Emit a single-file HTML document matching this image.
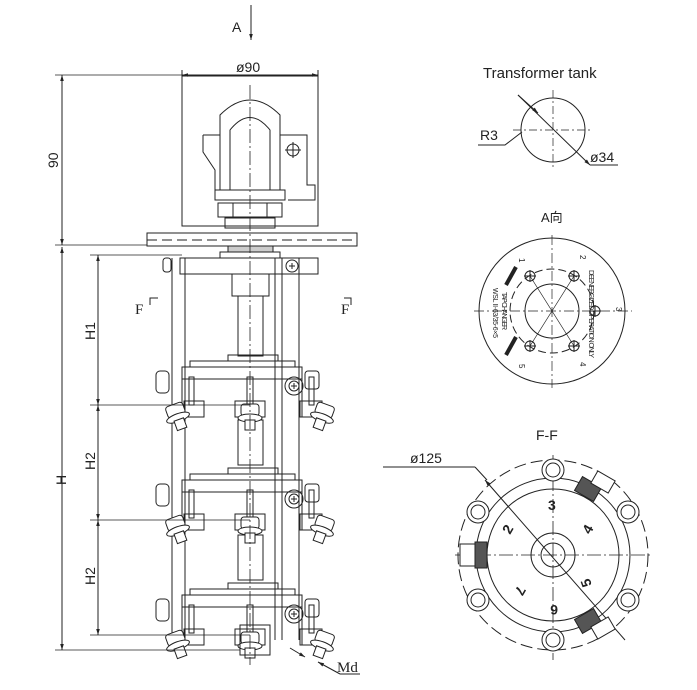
<!DOCTYPE html>
<html><head><meta charset="utf-8"><style>
html,body{margin:0;padding:0;background:#fff;}
svg{display:block;}
text{font-family:"Liberation Sans","Noto Sans CJK SC",sans-serif;fill:#222;}
.s{font-family:"Liberation Serif","Noto Serif CJK SC",serif;}
</style></head><body>
<svg width="697" height="690" viewBox="0 0 697 690" xmlns="http://www.w3.org/2000/svg">
<defs>
<marker id="ar" viewBox="0 0 10 10" refX="10" refY="5" markerWidth="8" markerHeight="6" orient="auto-start-reverse"><path d="M0,2 L10,5 L0,8 z" fill="#222"/></marker>
<g id="tier" fill="none" stroke="#222" stroke-width="1">
  <rect x="228" y="-12" width="50" height="6"/>
  <rect x="190" y="-6" width="105" height="6"/>
  <rect x="182" y="0" width="120" height="12"/>
  <rect x="156" y="4" width="13" height="22" rx="4"/>
  <rect x="305" y="4" width="14" height="18" rx="3"/>
  <line x1="182" y1="12" x2="182" y2="50"/><line x1="302" y1="12" x2="302" y2="50"/>
  <rect x="189" y="10" width="5" height="28"/><rect x="247" y="10" width="6" height="28"/><rect x="309" y="10" width="5" height="28"/>
  <rect x="184" y="34" width="20" height="16"/><rect x="235" y="34" width="30" height="16"/><rect x="300" y="34" width="22" height="16"/>
  <circle cx="294" cy="19" r="9"/><circle cx="294" cy="19" r="5"/>
  <path d="M291,19 h6 M294,16 v6"/>
  <g transform="translate(176,45) rotate(-20)"><rect x="-9" y="-8" width="18" height="12" rx="3" fill="#fff"/><ellipse cx="0" cy="6" rx="12" ry="4" fill="#fff"/><rect x="-5" y="8" width="10" height="10" fill="#fff"/></g>
  <g transform="translate(250,45)"><rect x="-9" y="-8" width="18" height="12" rx="3" fill="#fff"/><ellipse cx="0" cy="6" rx="12" ry="4" fill="#fff"/><rect x="-5" y="8" width="10" height="10" fill="#fff"/></g>
  <g transform="translate(324,45) rotate(20)"><rect x="-9" y="-8" width="18" height="12" rx="3" fill="#fff"/><ellipse cx="0" cy="6" rx="12" ry="4" fill="#fff"/><rect x="-5" y="8" width="10" height="10" fill="#fff"/></g>
</g>
</defs>
<g fill="none" stroke="#222" stroke-width="1">
<!-- top box -->
<rect x="182" y="76" width="136" height="150"/>
<path d="M220,190 V115 Q250,85 280,115 V190"/>
<path d="M230,190 V130 Q250,105 270,130 V190"/>
<path d="M203,135 H220 M203,135 V152 L215,170 V190 M280,135 H307 V185 H315 V200 H288"/>
<circle cx="293" cy="150" r="6"/><path d="M285,150 H301 M293,142 V158"/>
<rect x="215" y="190" width="70" height="10"/>
<rect x="218" y="203" width="64" height="14"/><line x1="233" y1="203" x2="233" y2="217"/><line x1="267" y1="203" x2="267" y2="217"/>
<rect x="225" y="218" width="50" height="10"/>
<rect x="147" y="233" width="210" height="13"/>
<line x1="147" y1="240" x2="357" y2="240" stroke-dasharray="10,5"/>
<rect x="228" y="246" width="45" height="6" fill="#ccc"/>
<rect x="220" y="252" width="60" height="6"/>
<!-- frame -->
<rect x="180" y="258" width="138" height="16"/>
<rect x="163" y="258" width="8" height="14" rx="3"/>
<line x1="172" y1="258" x2="172" y2="640"/><line x1="185" y1="258" x2="185" y2="640"/>
<line x1="275" y1="258" x2="275" y2="640"/><line x1="282" y1="258" x2="282" y2="640"/><line x1="299" y1="258" x2="299" y2="640"/>
<circle cx="292" cy="266" r="6"/><path d="M289,266 h6 M292,263 v6"/>
<rect x="232" y="274" width="37" height="22"/>
<rect x="238" y="296" width="25" height="60"/>
<rect x="238" y="420" width="25" height="45"/>
<rect x="238" y="535" width="25" height="45"/>
<use href="#tier" y="367"/>
<use href="#tier" y="480"/>
<use href="#tier" y="595"/>
<rect x="240" y="625" width="30" height="30"/>
<!-- centerline -->
<line x1="250" y1="85" x2="250" y2="665" stroke-dasharray="14,3,2,3" stroke-width="0.8"/>
<!-- dims -->
<line x1="182" y1="70" x2="182" y2="76"/><line x1="318" y1="70" x2="318" y2="76"/>
<line x1="182" y1="75" x2="318" y2="75" marker-start="url(#ar)" marker-end="url(#ar)"/>
<line x1="251" y1="5" x2="251" y2="40" marker-end="url(#ar)"/>
<line x1="55" y1="75" x2="250" y2="75" stroke-width="0.8"/>
<line x1="55" y1="245" x2="147" y2="245" stroke-width="0.8"/>
<line x1="62" y1="75" x2="62" y2="245" marker-start="url(#ar)" marker-end="url(#ar)"/>
<line x1="62" y1="247" x2="62" y2="650" marker-start="url(#ar)" marker-end="url(#ar)"/>
<line x1="55" y1="650" x2="240" y2="650" stroke-width="0.8"/>
<line x1="90" y1="255" x2="182" y2="255" stroke-width="0.8"/>
<line x1="90" y1="405" x2="250" y2="405" stroke-width="0.8"/>
<line x1="90" y1="520" x2="250" y2="520" stroke-width="0.8"/>
<line x1="90" y1="635" x2="250" y2="635" stroke-width="0.8"/>
<line x1="98" y1="255" x2="98" y2="405" marker-start="url(#ar)" marker-end="url(#ar)"/>
<line x1="98" y1="405" x2="98" y2="520" marker-start="url(#ar)" marker-end="url(#ar)"/>
<line x1="98" y1="520" x2="98" y2="635" marker-start="url(#ar)" marker-end="url(#ar)"/>
<path d="M150,305 V298 H158 M344,298 H351 V305"/>
<line x1="290" y1="648" x2="305" y2="657" marker-end="url(#ar)"/>
<line x1="340" y1="674" x2="318" y2="662" marker-end="url(#ar)"/>
<line x1="340" y1="674" x2="360" y2="674"/>
<!-- tank circle -->
<circle cx="553" cy="130" r="32"/>
<line x1="518" y1="95" x2="590" y2="165" marker-end="url(#ar)"/>
<line x1="518" y1="95" x2="538" y2="113" marker-end="url(#ar)"/>
<path d="M478,145 H505 L522,132"/>
<line x1="590" y1="165" x2="618" y2="165"/>
<line x1="553" y1="90" x2="553" y2="170" stroke-dasharray="8,3,2,3" stroke-width="0.7"/>
<line x1="513" y1="130" x2="593" y2="130" stroke-dasharray="8,3,2,3" stroke-width="0.7"/>
<!-- A view -->
<circle cx="552" cy="311" r="73"/>
<circle cx="552" cy="311" r="27"/>
<circle cx="552" cy="311" r="42" stroke-dasharray="8,4"/>
<line x1="474" y1="311" x2="632" y2="311" stroke-dasharray="10,3,2,3" stroke-width="0.7"/>
<line x1="552" y1="235" x2="552" y2="388" stroke-dasharray="10,3,2,3" stroke-width="0.7"/>
<g>
<circle cx="530" cy="276" r="5"/><circle cx="574" cy="276" r="5"/><circle cx="530" cy="346" r="5"/><circle cx="574" cy="346" r="5"/><circle cx="595" cy="311" r="5"/>
<path d="M524,276 h12 M530,270 v12 M568,276 h12 M574,270 v12 M524,346 h12 M530,340 v12 M568,346 h12 M574,340 v12 M589,311 h12 M595,305 v12"/>
<path d="M530,276 L552,311 L574,276 M530,346 L552,311 L574,346" stroke-width="0.7"/>
</g>
<line x1="506" y1="285" x2="516" y2="267" stroke-width="4"/>
<line x1="506" y1="355" x2="516" y2="337" stroke-width="4"/>
<!-- F-F -->
<circle cx="553" cy="555" r="95" stroke-dasharray="12,5"/>
<circle cx="553" cy="555" r="77"/>
<circle cx="553" cy="555" r="66"/>
<circle cx="553" cy="555" r="22"/>
<circle cx="553" cy="555" r="12"/>
<line x1="455" y1="555" x2="652" y2="555" stroke-dasharray="14,3,2,3" stroke-width="0.8"/>
<line x1="553" y1="455" x2="553" y2="660" stroke-dasharray="14,3,2,3" stroke-width="0.8"/>
<line x1="485" y1="480" x2="625" y2="640" marker-start="url(#ar)"/>
<line x1="383" y1="467" x2="475" y2="467"/><line x1="475" y1="467" x2="487" y2="480"/>
<g fill="#fff">
<circle cx="553" cy="470" r="11"/><circle cx="553" cy="470" r="7"/>
<circle cx="553" cy="640" r="11"/><circle cx="553" cy="640" r="7"/>
<circle cx="478" cy="512" r="11"/><circle cx="478" cy="512" r="7"/>
<circle cx="628" cy="512" r="11"/><circle cx="628" cy="512" r="7"/>
<circle cx="478" cy="600" r="11"/><circle cx="478" cy="600" r="7"/>
<circle cx="628" cy="600" r="11"/><circle cx="628" cy="600" r="7"/>
</g>
<g fill="#555" stroke="#222">
<rect x="580" y="478" width="16" height="22" transform="rotate(-60 588 489)"/>
<rect x="580" y="610" width="16" height="22" transform="rotate(60 588 621)"/>
<rect x="475" y="542" width="12" height="26"/>
</g>
<rect x="460" y="544" width="15" height="22" fill="#fff"/>
<rect x="596" y="472" width="14" height="20" fill="#fff" transform="rotate(-60 603 482)"/>
<rect x="596" y="618" width="14" height="20" fill="#fff" transform="rotate(60 603 628)"/>
</g>
<text x="232" y="32" font-size="14">A</text>
<text x="236" y="72" font-size="14">ø90</text>
<text x="58" y="168" font-size="14" transform="rotate(-90 58 168)">90</text>
<text x="66" y="485" font-size="14" transform="rotate(-90 66 485)">H</text>
<text x="95" y="340" font-size="14" transform="rotate(-90 95 340)">H1</text>
<text x="95" y="470" font-size="14" transform="rotate(-90 95 470)">H2</text>
<text x="95" y="585" font-size="14" transform="rotate(-90 95 585)">H2</text>
<text class="s" x="135" y="314" font-size="15">F</text>
<text class="s" x="341" y="314" font-size="15">F</text>
<text class="s" x="337" y="672" font-size="15">Md</text>
<text x="483" y="78" font-size="15">Transformer tank</text>
<text x="480" y="140" font-size="14">R3</text>
<text x="590" y="162" font-size="14">ø34</text>
<text x="541" y="222" font-size="13">A向</text>
<text x="536" y="440" font-size="14">F-F</text>
<text x="410" y="463" font-size="14">ø125</text>
<g font-size="8" fill="#222">
<text x="519" y="258" transform="rotate(90 519 258)">1</text><text x="580" y="255" transform="rotate(90 580 255)">2</text><text x="616" y="307" transform="rotate(90 616 307)">3</text><text x="580" y="362" transform="rotate(90 580 362)">4</text><text x="519" y="364" transform="rotate(90 519 364)">5</text>
<text x="589" y="270" font-size="7" textLength="88" transform="rotate(90 589 270)">DEENERGIZED OPERATION ONLY</text>
<text x="502" y="292" font-size="7" textLength="38" transform="rotate(90 502 292)">TAP CHANGER</text>
<text x="493" y="288" font-size="7" textLength="50" transform="rotate(90 493 288)">WSL II-63/35-6×5</text>
</g>
<g font-size="14" font-weight="bold">
<text x="548" y="510">3</text>
<text x="590" y="535" transform="rotate(-60 590 535)">4</text>
<text x="592" y="585" transform="rotate(-110 592 585)">5</text>
<text x="558" y="605" transform="rotate(180 558 605)">6</text>
<text x="518" y="585" transform="rotate(120 518 585)">7</text>
<text x="510" y="535" transform="rotate(-60 510 535)">2</text>
</g>
</svg>
</body></html>
